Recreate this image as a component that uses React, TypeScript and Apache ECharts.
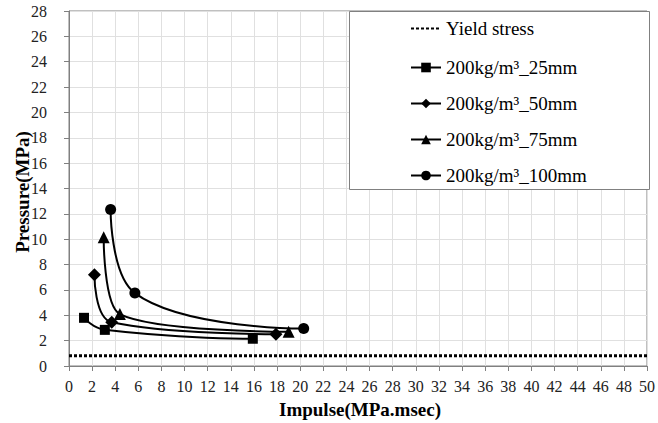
import React, { useEffect, useRef } from "react";
import * as echarts from "echarts";

const yieldStress: [number, number][] = [[0, 0.8], [50, 0.8]];
const s25: [number, number][] = [[1.3, 3.8], [3.1, 2.85], [15.9, 2.15]];
const s50: [number, number][] = [[2.2, 7.2], [3.7, 3.45], [17.9, 2.5]];
const s75: [number, number][] = [[3.0, 10.15], [4.4, 4.1], [19.0, 2.7]];
const s100: [number, number][] = [[3.6, 12.35], [5.7, 5.75], [20.3, 2.95]];
const seriesNames = [
  "Yield stress",
  "200kg/m³_25mm",
  "200kg/m³_50mm",
  "200kg/m³_75mm",
  "200kg/m³_100mm",
];
const xName = "Impulse(MPa.msec)";
const yName = "Pressure(MPa)";

const FONT = "Liberation Serif";

export default function App() {
  const ref = useRef<HTMLDivElement>(null);
  useEffect(() => {
    if (!ref.current) return;
    const chart = echarts.init(ref.current, undefined, { renderer: "svg" });
    const lineSeries = (name: string, data: [number, number][], symbol: string, size: number) => ({
      name,
      type: "line",
      data,
      smooth: 0.5,
      symbol,
      symbolSize: size,
      itemStyle: { color: "#000" },
      lineStyle: { color: "#000", width: 2 },
      z: 3,
    });
    const legendBase = {
      orient: "vertical",
      left: 410,
      z: 5,
      itemWidth: 30,
      itemHeight: 12,
      itemGap: 17,
      padding: 0,
      textStyle: { fontFamily: FONT, fontSize: 19, color: "#000" },
    };
    chart.setOption({
      animation: false,
      grid: {
        left: 69,
        right: 9,
        top: 11,
        bottom: 57,
        show: true,
        borderColor: "#808080",
        borderWidth: 1,
      },
      xAxis: [{
        type: "value",
        min: 0,
        max: 50,
        interval: 2,
        axisLine: { show: true, lineStyle: { color: "#808080" } },
        axisTick: { show: true, length: 5, lineStyle: { color: "#808080" } },
        axisLabel: { show: true, color: "#222", fontSize: 16, fontFamily: FONT, margin: 12 },
        splitLine: { show: true, lineStyle: { color: "#e0e0e0" } },
      }],
      yAxis: [{
        type: "value",
        min: 0,
        max: 28,
        interval: 2,
        axisLine: { show: true, lineStyle: { color: "#808080" } },
        axisTick: { show: true, length: 5, lineStyle: { color: "#808080" } },
        axisLabel: { show: true, fontFamily: FONT, fontSize: 16, color: "#222", margin: 22 },
        splitLine: { show: true, lineStyle: { color: "#e0e0e0" } },
      }],
      graphic: [
        {
          type: "rect",
          z: 3,
          shape: { x: 349.5, y: 11.5, width: 300, height: 178 },
          style: { fill: "#fff", stroke: "#808080", lineWidth: 1 },
        },
        {
          type: "text",
          x: 360,
          y: 409,
          style: {
            text: xName,
            fontFamily: FONT,
            fontSize: 19,
            fontWeight: "bold",
            fill: "#000",
            align: "center",
            verticalAlign: "middle",
          },
        },
        {
          type: "text",
          x: 22,
          y: 192,
          rotation: Math.PI / 2,
          style: {
            text: yName,
            fontFamily: FONT,
            fontSize: 19,
            fontWeight: "bold",
            fill: "#000",
            align: "center",
            verticalAlign: "middle",
          },
        },
      ],
      legend: [
        {
          ...legendBase,
          top: 19,
          data: [{ name: seriesNames[0], itemStyle: { opacity: 0 } }],
        },
        {
          ...legendBase,
          top: 58,
          data: seriesNames.slice(1),
        },
      ],
      series: [
        {
          name: seriesNames[0],
          type: "line",
          data: yieldStress,
          symbol: "none",
          lineStyle: { color: "#000", width: 3, type: [3, 2] },
          itemStyle: { color: "#000" },
          z: 2,
        },
        lineSeries(seriesNames[1], s25, "rect", 10),
        lineSeries(seriesNames[2], s50, "diamond", 13),
        lineSeries(seriesNames[3], s75, "triangle", 12),
        lineSeries(seriesNames[4], s100, "circle", 11),
      ],
    });
    return () => chart.dispose();
  }, []);
  return <div ref={ref} style={{ width: 658, height: 423, position: "absolute", left: 0, top: 0 }} />;
}
